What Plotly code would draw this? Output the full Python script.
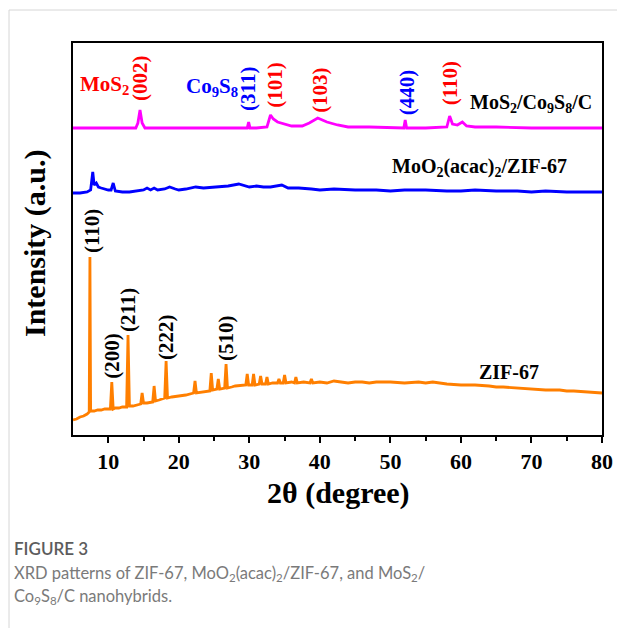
import plotly.graph_objects as go

# ---------------- data (2θ in degrees, intensity in arbitrary units) ----------------
zif_x = [5, 5.5, 6, 6.5, 7, 7.3, 7.4, 7.5, 8, 8.5, 9, 9.5, 10, 10.3, 10.5, 10.7, 11, 11.5, 12, 12.6,
         12.8, 13.0, 13.5, 14, 14.6, 14.8, 15.0, 15.5, 16.3, 16.5, 16.7, 17.2, 18.0, 18.2, 18.4, 19,
         20, 21, 22.1, 22.3, 22.5, 23.3, 24.4, 24.6, 24.8, 25.4, 25.6, 25.8, 26.5, 26.7, 26.9, 27.5,
         28, 29.5, 29.7, 29.9, 30.4, 30.6, 30.8, 31.4, 31.6, 31.8, 32.3, 32.5, 32.7, 33.3, 34.0, 34.2,
         34.4, 34.8, 35.0, 35.2, 36.0, 36.4, 36.6, 36.8, 37.7, 38.6, 38.8, 39.0, 40, 41, 42, 43, 44, 45,
         46, 47, 48, 50, 52, 54, 55, 56, 58, 60, 62, 64, 65, 66, 68, 70, 72, 74, 75, 76, 78, 80]
zif_y = [15, 16, 18, 19, 21, 23, 178, 24, 24, 25, 25, 26, 26, 26, 53, 26, 27, 27, 28, 28,
         100, 29, 29, 30, 31, 42, 32, 32, 33, 49, 34, 35, 37, 74, 37, 38,
         39, 40, 42, 54, 42, 43, 44, 62, 45, 46, 56, 46, 47, 71, 47, 48,
         49, 50, 61, 50, 50, 61, 50, 51, 59, 51, 51, 58, 51, 52, 52, 56,
         52, 52, 60, 52, 53, 52, 58, 52, 53, 52, 56, 52, 53, 52, 54, 53, 52, 53,
         53, 52, 53, 53, 52, 53, 52, 53, 51, 50, 50, 49, 48, 48, 47, 46, 45, 45, 44, 44, 43, 42]

moo_x = [5, 6, 7, 7.5, 7.8, 8.0, 8.3, 8.6, 9.0, 9.5, 10.0, 10.4, 10.7, 11.0, 12, 13, 14, 15, 15.5,
         16, 16.5, 17, 18, 18.7, 19.5, 20, 21, 22.4, 23.5, 25, 26, 27, 28.5, 29.5, 30, 31, 32, 33,
         34.6, 35.5, 37, 38.8, 40, 42, 45, 48, 50, 52, 55, 58, 60, 62, 65, 68, 70, 72, 75, 78, 80]
moo_y = [242, 242, 243, 245, 263, 250, 252, 248, 247, 246, 245, 245, 252, 244, 243, 243, 244, 245, 247,
         245, 247, 245, 246, 248, 246, 245, 246, 248, 247, 248, 248, 249, 251, 249, 248, 249, 248, 248,
         250, 247, 247, 246, 245, 246, 245, 245, 244, 245, 245, 244, 244, 245, 244, 244, 243, 244, 243, 243, 243]

mos_x = [5, 7, 10, 12, 13.9, 14.2, 14.5, 14.8, 15.2, 17, 20, 22, 25, 27, 29.7, 29.9, 30.1, 31, 32.5,
         33.0, 33.4, 34, 35, 36, 37.5, 38.5, 39.7, 41, 42.5, 44, 47, 50, 51.9, 52.1, 52.3, 55, 58.0,
         58.4, 58.8, 59.5, 60.2, 60.8, 62, 65, 68, 70, 73, 76, 80]
mos_y = [307, 307, 307, 307, 307, 312, 325, 312, 307, 307, 307, 307, 307, 307, 307, 313, 307, 307, 308,
         320, 316, 313, 311, 309, 309, 312, 317, 313, 310, 308, 308, 307, 307, 315, 307, 307, 308,
         319, 311, 310, 313, 309, 308, 308, 307, 307, 307, 307, 307]

x_tick_vals = [10, 20, 30, 40, 50, 60, 70, 80]
x_tick_text = ["10", "20", "30", "40", "50", "60", "70", "80"]

series_names = ["ZIF-67", "MoO<sub>2</sub>(acac)<sub>2</sub>/ZIF-67", "MoS<sub>2</sub>/Co<sub>9</sub>S<sub>8</sub>/C"]

# ---------------- figure ----------------
SERIF = "Liberation Serif, Times New Roman, serif"
W, H = 617, 628
PL, PR, PT, PB = 73, 602, 43, 435   # plot frame in window pixels
ML, MT = PL, PT
MR = W - PR
MB = H - PB
PW, PH = PR - PL, PB - PT


def px(x):
    return (x - PL) / PW


def py(y):
    return (PB - y) / PH


fig = go.Figure()
fig.add_trace(go.Scatter(x=zif_x, y=zif_y, mode="lines", line=dict(color="#FF7F00", width=2.8),
                         name=series_names[0], showlegend=False))
fig.add_trace(go.Scatter(x=moo_x, y=moo_y, mode="lines", line=dict(color="#0000FF", width=2.8),
                         name=series_names[1], showlegend=False))
fig.add_trace(go.Scatter(x=mos_x, y=mos_y, mode="lines", line=dict(color="#FF00FF", width=2.8),
                         name=series_names[2], showlegend=False))

annotations = []


def lab(text, x, y, color="black", size=21, angle=0):
    annotations.append(dict(text=text, x=x, y=y, xref="x", yref="y", showarrow=False,
                            textangle=angle, xanchor="center", yanchor="middle",
                            font=dict(family=SERIF, size=size, color=color, weight="bold")))


# peak labels ZIF-67
lab("(110)", 7.7, 204, angle=-90)
lab("(200)", 10.5, 79, angle=-90)
lab("(211)", 12.8, 125, angle=-90)
lab("(222)", 18.2, 98, angle=-90)
lab("(510)", 26.7, 97, angle=-90)
# peak labels MoS2/Co9S8/C
RED, BLUE = "#FF0000", "#0000FF"
lab("MoS<sub>2</sub>", 9.4, 350, color=RED)
lab("(002)", 14.5, 357, color=RED, angle=-90)
lab("Co<sub>9</sub>S<sub>8</sub>", 24.7, 348, color=BLUE)
lab("(311)", 29.8, 346, color=BLUE, angle=-90)
lab("(101)", 33.6, 350, color=RED, angle=-90)
lab("(103)", 40.0, 345, color=RED, angle=-90)
lab("(440)", 52.4, 343, color=BLUE, angle=-90)
lab("(110)", 58.5, 352, color=RED, angle=-90)
# series names
lab(series_names[2], 69.9, 332, size=20)
lab(series_names[1], 62.7, 268, size=20)
lab(series_names[0], 66.8, 63, size=20)

# axis titles
annotations.append(dict(text="2θ (degree)", x=px(338), y=py(493), xref="paper", yref="paper",
                        showarrow=False, xanchor="center", yanchor="middle",
                        font=dict(family=SERIF, size=30, color="black", weight="bold")))
annotations.append(dict(text="Intensity (a.u.)", x=px(35), y=py(243), xref="paper", yref="paper",
                        showarrow=False, xanchor="center", yanchor="middle", textangle=-90,
                        font=dict(family=SERIF, size=30, color="black", weight="bold")))
# caption
CAP = "Lato, Open Sans, sans-serif"
annotations.append(dict(text="FIGURE 3", x=px(12), y=py(548), xref="paper", yref="paper",
                        showarrow=False, xanchor="left", yanchor="middle",
                        font=dict(family=CAP, size=17, color="#5c5c5c", weight=600)))
annotations.append(dict(text="XRD patterns of ZIF-67, MoO<sub>2</sub>(acac)<sub>2</sub>/ZIF-67, and MoS<sub>2</sub>/",
                        x=px(12), y=py(573), xref="paper", yref="paper",
                        showarrow=False, xanchor="left", yanchor="middle",
                        font=dict(family=CAP, size=16.5, color="#7a7a7a")))
annotations.append(dict(text="Co<sub>9</sub>S<sub>8</sub>/C nanohybrids.",
                        x=px(12), y=py(596), xref="paper", yref="paper",
                        showarrow=False, xanchor="left", yanchor="middle",
                        font=dict(family=CAP, size=16.5, color="#7a7a7a")))

shapes = [
    dict(type="line", xref="paper", yref="paper", x0=px(9), x1=px(9), y0=py(10), y1=py(H),
         line=dict(color="#d6d6d6", width=1)),
    dict(type="line", xref="paper", yref="paper", x0=px(9), x1=px(W), y0=py(10), y1=py(10),
         line=dict(color="#d6d6d6", width=1)),
]

fig.update_layout(
    width=W, height=H,
    margin=dict(l=ML, r=MR, t=MT, b=MB, autoexpand=False),
    paper_bgcolor="white", plot_bgcolor="white",
    annotations=annotations, shapes=shapes,
    xaxis=dict(range=[5, 80], tickvals=x_tick_vals, ticktext=x_tick_text,
               ticks="outside", ticklen=6, tickwidth=2, tickcolor="black",
               minor=dict(tickvals=[15, 25, 35, 45, 55, 65, 75], ticks="outside", ticklen=4,
                          tickwidth=2, tickcolor="black"),
               showline=True, linewidth=2, linecolor="black", mirror=True,
               showgrid=False, zeroline=False, ticklabeloverflow="allow",
               tickfont=dict(family=SERIF, size=22, color="black", weight="bold")),
    yaxis=dict(range=[0, 392], showticklabels=False, ticks="",
               showline=True, linewidth=2, linecolor="black", mirror=True,
               showgrid=False, zeroline=False),
)

fig.write_html("out.html", config={"displayModeBar": False},
               post_script="document.body.style.margin='0';document.body.style.overflow='hidden';")
